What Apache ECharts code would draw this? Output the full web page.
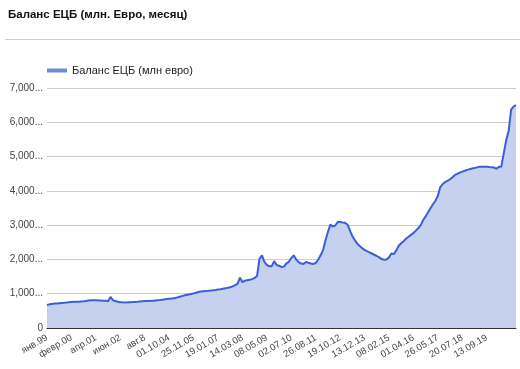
<!DOCTYPE html>
<html>
<head>
<meta charset="utf-8">
<script src="https://cdn.jsdelivr.net/npm/echarts@6/dist/echarts.min.js"></script>
<style>
html,body{margin:0;padding:0;background:#fff;}
#chart{width:520px;height:369px;}
</style>
</head>
<body>
<div id="chart"></div>
<script>
var titleText = 'Баланс ЕЦБ (млн. Евро, месяц)';
var seriesName = 'Баланс ЕЦБ (млн евро)';
var tickLabels = ['янв.99','февр.00','апр.01','июн.02','авг.8','01.10.04','25.11.05','19.01.07','14.03.08','08.05.09','02.07.10','26.08.11','19.10.12','13.12.13','08.02.15','01.04.16','26.05.17','20.07.18','13.09.19'];
var yTicks = [0, 1000, 2000, 3000, 4000, 5000, 6000, 7000];
var values = [
671,690,703,712,718,725,732,738,745,753,
759,763,766,769,774,778,790,800,807,807,
808,805,802,798,792,782,905,810,785,765,
750,748,747,748,752,756,761,768,776,780,
784,787,790,794,798,806,813,822,833,844,
853,860,868,885,905,925,945,960,975,990,
1010,1030,1050,1062,1069,1076,1083,1091,1100,1110,
1121,1132,1147,1160,1174,1190,1215,1250,1290,1470,
1335,1380,1395,1410,1425,1460,1520,2020,2120,1930,
1840,1800,1800,1950,1837,1815,1780,1790,1885,1930,
2040,2120,2000,1920,1880,1870,1925,1905,1880,1866,
1895,1990,2120,2270,2560,2800,3020,2960,2990,3090,
3095,3080,3068,3020,2850,2680,2566,2460,2390,2330,
2280,2240,2205,2172,2136,2100,2060,2010,1990,2000,
2060,2175,2155,2270,2400,2470,2530,2605,2660,2715,
2770,2840,2910,3000,3150,3255,3375,3495,3610,3710,
3850,4110,4200,4255,4295,4338,4400,4465,4498,4530,
4560,4588,4613,4633,4650,4667,4685,4702,4705,4705,
4702,4695,4690,4680,4645,4700,4705,5100,5480,5750,
6370,6460,6503
];
var categories = values.map(function(v, i){ return i % 10 === 0 && tickLabels[i/10] ? tickLabels[i/10] : ''; });

var chart = echarts.init(document.getElementById('chart'), null, {renderer:'canvas'});
var font = 'Liberation Sans, Arial, sans-serif';
chart.setOption({
  backgroundColor:'#ffffff',
  animation:false,
  textStyle:{fontFamily:font},
  title:{
    text:titleText, left:8, top:9, padding:0,
    textStyle:{fontSize:11.5, fontWeight:'bold', color:'#111', fontFamily:font}
  },
  graphic:[{
    type:'line', shape:{x1:5,y1:39.5,x2:520,y2:39.5},
    style:{stroke:'#cccccc', lineWidth:1}
  }],
  legend:{
    left:47, top:65, padding:0, icon:'rect', itemWidth:20, itemHeight:4, itemGap:5,
    textStyle:{fontSize:11, color:'#222', fontFamily:font},
    data:[{name:seriesName, itemStyle:{color:'#6f88e0'}}]
  },
  grid:{left:47, right:4, top:88, bottom:41, containLabel:false},
  xAxis:{
    type:'category', boundaryGap:false, data:categories,
    axisLine:{lineStyle:{color:'#333', width:1}},
    axisTick:{show:false},
    splitLine:{show:false},
    axisLabel:{
      interval:function(i){ return i % 10 === 0; },
      rotate:30, fontSize:9.5, color:'#444', margin:9, fontFamily:font
    }
  },
  yAxis:{
    type:'value', min:yTicks[0], max:yTicks[yTicks.length-1], interval:1000,
    axisLine:{show:false}, axisTick:{show:false},
    splitLine:{lineStyle:{color:'#cccccc', width:1}},
    axisLabel:{
      fontSize:10, color:'#444', margin:4, fontFamily:font,
      formatter:function(v){ return v === 0 ? '0' : v.toLocaleString('en-US') + '...'; }
    }
  },
  series:[{
    name:seriesName, type:'line', data:values, showSymbol:false, symbol:'none',
    lineStyle:{color:'#3c5ed6', width:2},
    itemStyle:{color:'#3c5ed6'},
    areaStyle:{color:'#c6d0ef', opacity:1}
  }]
});
</script>
</body>
</html>
